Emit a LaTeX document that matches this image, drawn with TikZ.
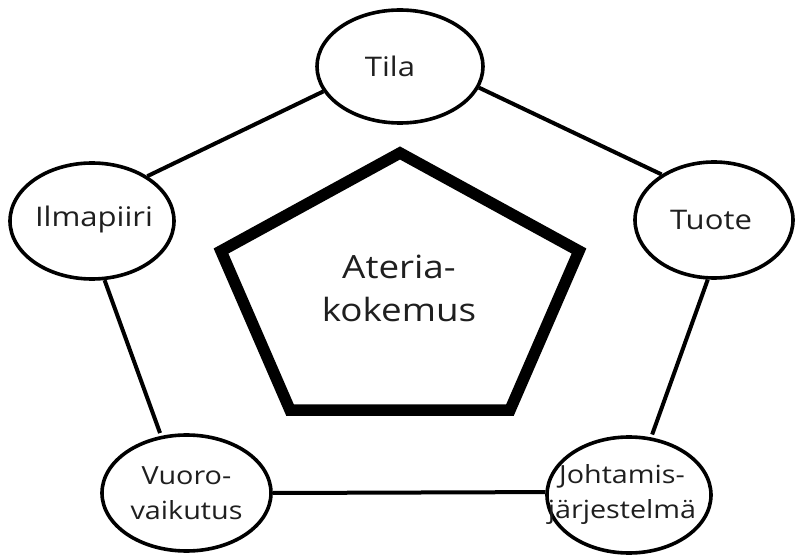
\documentclass[tikz,border=0pt]{standalone}
\usepackage{fontspec}
\setmainfont{Open Sans}
\newfontfamily\diagfont[FakeStretch=1.15]{Open Sans}
\usetikzlibrary{shapes.geometric}
\begin{document}
\begin{tikzpicture}[x=1pt,y=-1pt,
  part/.style={ellipse, draw, line width=3.6pt, inner sep=0pt, fill=white},
  lblone/.style={font=\diagfont\fontsize{27}{35}\selectfont, text=black!88, inner sep=0pt},
  lbltwo/.style={font=\diagfont\fontsize{25}{35}\selectfont, align=center, text=black!88, inner sep=0pt},
  ctr/.style={font=\diagfont\fontsize{32}{43}\selectfont, align=center, text=black!88, inner sep=0pt},
  conn/.style={line width=4pt},
  core/.style={line width=11.5pt, miter limit=10}]
\useasboundingbox[fill=white] (0,0) rectangle (796,556);

% the five surrounding factors
\node[part, minimum width=166pt, minimum height=113pt,
      label={[lblone, xshift=-10pt]center:Tila}] (tila) at (400,66.5) {};
\node[part, minimum width=164pt, minimum height=116pt,
      label={[lblone, xshift=2pt, yshift=2pt]center:Ilmapiiri}] (ilma) at (92,221) {};
\node[part, minimum width=158pt, minimum height=116pt,
      label={[lblone, xshift=-3pt]center:Tuote}] (tuote) at (714,220) {};
\node[part, minimum width=169pt, minimum height=116pt,
      label={[lbltwo]center:Vuoro-\\vaikutus}] (vuoro) at (186.5,493) {};
\node[part, minimum width=164pt, minimum height=116pt,
      label={[lbltwo, xshift=-7pt]center:Johtamis-\\järjestelmä}] (joht) at (629,495) {};

% ring of connections
\draw[conn] (tila.198) -- (ilma.39);
\draw[conn] (tila.-15) -- (tuote.139);
\draw[conn, shorten >=3pt] (ilma.-78) -- (vuoro.114);
\draw[conn, shorten >=3pt] (tuote.-96) -- (joht.69);
\draw[conn] (vuoro.0.7) -- (joht.178);

% central pentagon
\coordinate (p1) at (400,153);
\coordinate (p2) at (579,251);
\coordinate (p3) at (510,410);
\coordinate (p4) at (290,410);
\coordinate (p5) at (221,251);
\draw[core] (p1) -- (p2) -- (p3) -- (p4) -- (p5) -- cycle;
\node[ctr] (meal) at (399,288) {Ateria-\\kokemus};
\end{tikzpicture}
\end{document}
